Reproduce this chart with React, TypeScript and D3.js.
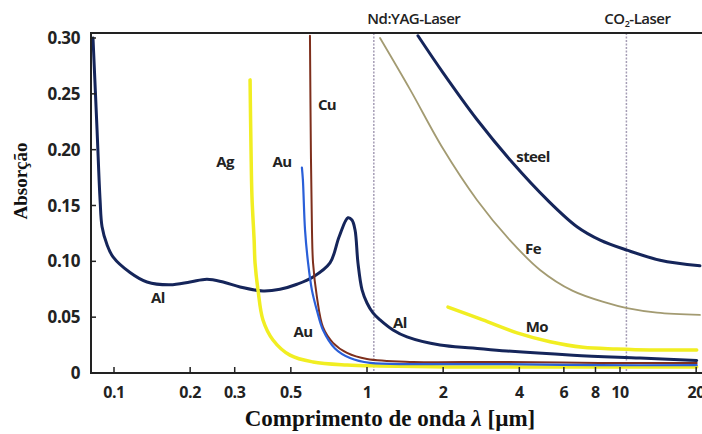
import React from 'react';
import * as d3 from 'd3';

// wavelength in µm, absorption (fraction)
const alLambda = [0.0826, 0.0857, 0.0881, 0.0897, 0.0938, 0.0991, 0.1157, 0.135, 0.1665, 0.1998, 0.233, 0.27, 0.315, 0.388, 0.453, 0.529, 0.612, 0.714, 0.776, 0.841, 0.872, 0.897, 0.921, 0.956, 1.0, 1.056, 1.126, 1.267, 1.439, 1.944, 2.62, 3.57, 6.52, 12.0, 20.1];
const alAbs = [0.3, 0.218, 0.155, 0.131, 0.115, 0.104, 0.09, 0.0815, 0.079, 0.0815, 0.084, 0.0815, 0.077, 0.0735, 0.075, 0.0795, 0.086, 0.0986, 0.122, 0.139, 0.137, 0.128, 0.0986, 0.0744, 0.0627, 0.0538, 0.0475, 0.0385, 0.0323, 0.025, 0.0224, 0.0197, 0.016, 0.0134, 0.0112];

const agLambda = [0.345, 0.348, 0.351, 0.358, 0.361, 0.371, 0.388, 0.425, 0.496, 0.612, 0.834, 1.126, 2.13, 5.29, 20.1];
const agAbs = [0.2625, 0.2, 0.158, 0.119, 0.0985, 0.074, 0.0475, 0.0296, 0.016, 0.0099, 0.0072, 0.0063, 0.0054, 0.0054, 0.0054];

const auLambda = [0.553, 0.558, 0.569, 0.585, 0.606, 0.634, 0.67, 0.747, 0.857, 1.028, 1.62, 3.35, 8.3, 20.1];
const auAbs = [0.184, 0.173, 0.128, 0.0986, 0.074, 0.056, 0.0385, 0.022, 0.0134, 0.009, 0.008, 0.008, 0.007, 0.007];

const cuLambda = [0.595, 0.6, 0.606, 0.612, 0.634, 0.67, 0.734, 0.834, 1.0, 1.52, 3.35, 8.3, 20.1];
const cuAbs = [0.302, 0.2, 0.128, 0.0986, 0.068, 0.041, 0.027, 0.018, 0.0125, 0.0099, 0.0099, 0.009, 0.009];

const steelLambda = [1.59, 1.996, 2.72, 3.77, 5.16, 6.76, 8.35, 10.66, 14.4, 20.7];
const steelAbs = [0.302, 0.269, 0.227, 0.188, 0.155, 0.131, 0.119, 0.11, 0.101, 0.096];

const feLambda = [1.126, 1.479, 1.996, 2.72, 3.67, 4.83, 6.51, 8.88, 10.66, 14.0, 20.7];
const feAbs = [0.3, 0.254, 0.201, 0.155, 0.119, 0.0923, 0.0735, 0.0627, 0.058, 0.054, 0.052];

const moLambda = [2.09, 2.87, 3.92, 5.29, 7.14, 9.72, 13.1, 20.1];
const moAbs = [0.059, 0.0475, 0.036, 0.028, 0.023, 0.0215, 0.0206, 0.0206];

const xTicks = [0.1, 0.2, 0.3, 0.5, 1, 2, 4, 6, 8, 10, 20];
const yTicks = [0, 0.05, 0.1, 0.15, 0.2, 0.25, 0.3];

const laserNames = ['Nd:YAG-Laser', 'CO2-Laser'];
const laserLambda = [1.064, 10.6];

const series = [
  { name: 'Al', x: alLambda, y: alAbs, color: '#15255a', width: 3 },
  { name: 'Fe', x: feLambda, y: feAbs, color: '#a39b72', width: 1.8 },
  { name: 'Mo', x: moLambda, y: moAbs, color: '#f1ee22', width: 3.5 },
  { name: 'Ag', x: agLambda, y: agAbs, color: '#f1ee22', width: 3.5 },
  { name: 'Cu', x: cuLambda, y: cuAbs, color: '#7e2f1c', width: 2 },
  { name: 'Au', x: auLambda, y: auAbs, color: '#2a5fd8', width: 2.2 },
  { name: 'steel', x: steelLambda, y: steelAbs, color: '#15255a', width: 3 },
];

const labelText = ['Ag', 'Au', 'Cu', 'Al', 'Au', 'Al', 'steel', 'Fe', 'Mo'];
const labelLambda = [0.275, 0.461, 0.695, 0.149, 0.558, 1.35, 4.53, 4.53, 4.69];
const labelAbs = [0.189, 0.189, 0.24, 0.067, 0.0367, 0.045, 0.1935, 0.111, 0.041];

const W = 702;
const H = 434;
const left = 91;
const top = 33;
const bottom = 373;
const right = 702;

const sansFont = "'Open Sans', 'DejaVu Sans', sans-serif";
const serifFont = "'Liberation Serif', 'Times New Roman', serif";

export default function App() {
  const x = d3.scaleLog().domain([0.1, 10]).range([114, 620]);
  const y = d3.scaleLinear().domain([0, 0.3]).range([373, 38]);

  const line = (xs: number[], ys: number[]) =>
    d3
      .line<number>()
      .x((d, i) => x(xs[i]))
      .y((d) => y(d))
      .curve(d3.curveCatmullRom.alpha(0.5))(ys) || '';

  // label offsets from the laser line (text sits to the right of it)
  const laserDx = [40, 11];

  return (
    <svg
      width={W}
      height={H}
      style={{ position: 'absolute', left: 0, top: 0, background: '#fff' }}
    >
      <defs>
        <clipPath id="plot">
          <rect x={left} y={top} width={right - left} height={bottom - top} />
        </clipPath>
      </defs>

      {/* laser wavelength markers */}
      {laserNames.map((name, i) => (
        <g key={name}>
          <line
            x1={x(laserLambda[i])}
            x2={x(laserLambda[i])}
            y1={top}
            y2={bottom}
            stroke="#a59db5"
            strokeWidth={1.5}
            strokeDasharray="2 1.5"
          />
          <text
            x={x(laserLambda[i]) + laserDx[i]}
            y={24}
            textAnchor="middle"
            fontFamily={sansFont}
            fontWeight={600}
            fontSize={15}
            letterSpacing={-0.5}
            fill="#222"
          >
            {name === 'CO2-Laser' ? (
              <>
                CO<tspan fontSize={9} dy={3}>2</tspan>
                <tspan dy={-3}>-Laser</tspan>
              </>
            ) : (
              name
            )}
          </text>
        </g>
      ))}

      <g clipPath="url(#plot)">
        {series.map((s) => (
          <path
            key={s.name}
            d={line(s.x, s.y)}
            fill="none"
            stroke={s.color}
            strokeWidth={s.width}
            strokeLinejoin="round"
            strokeLinecap="round"
          />
        ))}
      </g>

      {/* frame */}
      <path
        d={`M${right},${top}H${left}V${bottom}H${right}`}
        fill="none"
        stroke="#222"
        strokeWidth={2}
      />

      {/* y ticks */}
      {yTicks.map((t) => (
        <g key={t}>
          <line x1={left} x2={left + 5} y1={y(t)} y2={y(t)} stroke="#222" strokeWidth={1.5} />
          <text
            x={80}
            y={y(t) + 6}
            textAnchor="end"
            fontFamily={sansFont}
            fontWeight={700}
            fontSize={17}
            letterSpacing={-0.4}
            fill="#222"
          >
            {t === 0 ? '0' : t.toFixed(2)}
          </text>
        </g>
      ))}

      {/* x ticks */}
      {xTicks.map((t) => (
        <g key={t}>
          <line x1={x(t)} x2={x(t)} y1={bottom} y2={bottom - 6} stroke="#222" strokeWidth={1.5} />
          <text
            x={x(t)}
            y={398}
            textAnchor="middle"
            fontFamily={sansFont}
            fontWeight={700}
            fontSize={16}
            letterSpacing={-0.4}
            fill="#222"
          >
            {t}
          </text>
        </g>
      ))}

      {/* curve labels */}
      {labelText.map((t, i) => (
        <text
          key={i}
          x={x(labelLambda[i])}
          y={y(labelAbs[i]) + 5}
          textAnchor="middle"
          fontFamily={sansFont}
          fontWeight={700}
          fontSize={15}
          letterSpacing={-0.6}
          fill="#222"
        >
          {t}
        </text>
      ))}

      {/* axis titles */}
      <text
        transform="translate(27,181) rotate(-90)"
        textAnchor="middle"
        fontFamily={serifFont}
        fontWeight={700}
        fontSize={19}
        fill="#111"
      >
        Absorção
      </text>
      <text
        x={390}
        y={426}
        textAnchor="middle"
        fontFamily={serifFont}
        fontWeight={700}
        fontSize={23}
        fill="#111"
      >
        Comprimento de onda <tspan fontStyle="italic">λ</tspan> [µm]
      </text>
    </svg>
  );
}
